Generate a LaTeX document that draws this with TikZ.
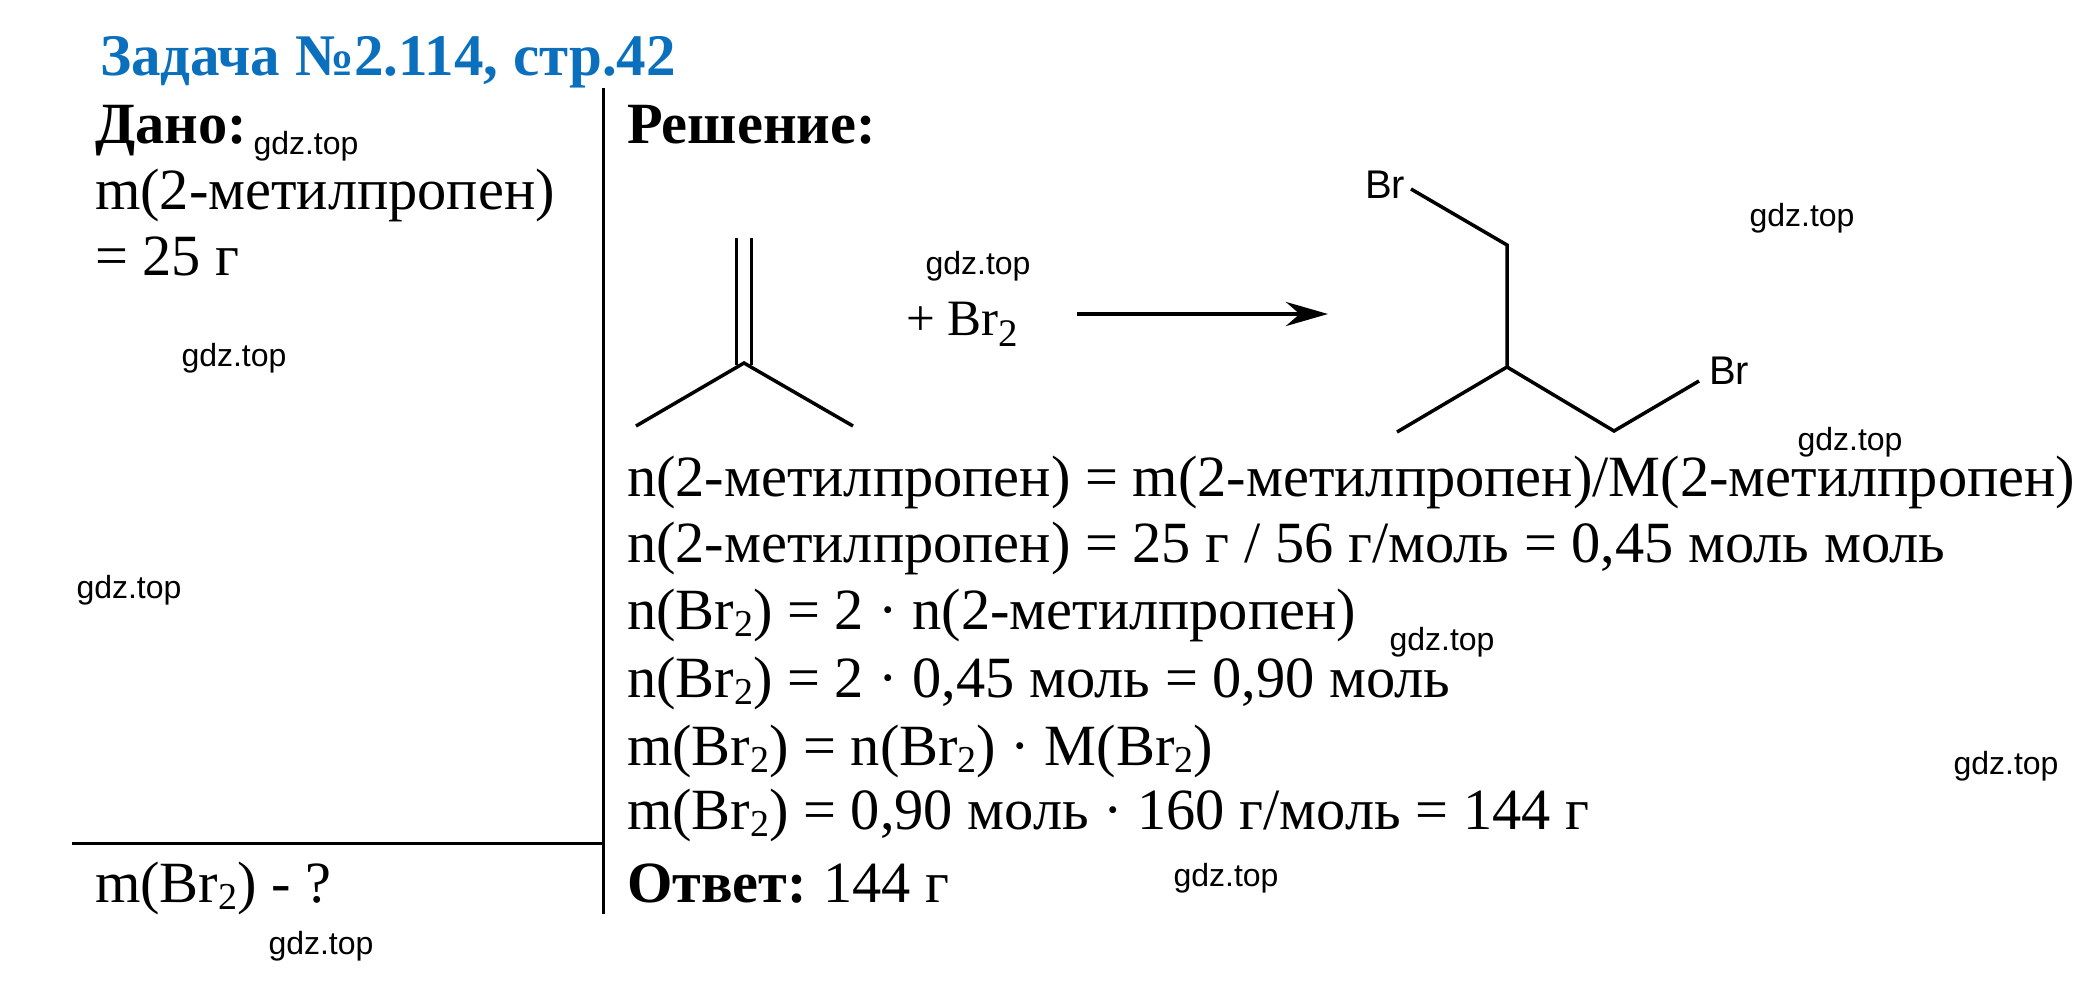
\documentclass[tikz,border=0pt]{standalone}
\usepackage{fontspec}
\setmainfont{Liberation Serif}
\newfontfamily\wmfont{Liberation Sans}
\usetikzlibrary{arrows.meta}
\newcommand\lowsub[1]{\raisebox{-0.13em}{\fontsize{38}{38}\selectfont #1}}
\tikzset{
  body/.style={anchor=base west,inner sep=0pt,outer sep=0pt,font=\fontsize{58.4}{60}\selectfont,text=black},
  head/.style={body,font=\fontsize{58.4}{60}\selectfont\bfseries},
  titletext/.style={body,font=\fontsize{59}{62}\selectfont\bfseries,text=titleblue},
  wm/.style={inner sep=0pt,font=\wmfont\fontsize{32}{34}\selectfont,text=black},
  atomlabel/.style={anchor=base west,inner sep=0pt,font=\wmfont\fontsize{40}{42}\selectfont},
  bond/.style={draw=black,line width=3.5pt},
  rule/.style={draw=black,line width=3pt},
  react/.style={draw=black,line width=4.5pt,-{Stealth[length=42pt,width=24pt]}}
}
\definecolor{titleblue}{HTML}{0A70BE}
\begin{document}
\begin{tikzpicture}[x=1pt,y=-1pt]
\useasboundingbox[fill=white] (0,0) rectangle (2080,994);
% title
\node[titletext] (title) at (100,75) {Задача №2.114, стр.42};
% rules
\coordinate (vtop) at (603,88);
\coordinate (vbot) at (603,914);
\coordinate (hl) at (72,843);
\coordinate (hr) at (603,843);
\draw[rule] (vtop) -- (vbot);
\draw[rule] (hl) -- (hr);
% given
\node[head] (given) at (95,143) {Дано:};
\node[body] (g1) at (95,209) {m(2-метилпропен)};
\node[body] (g2) at (95,275) {= 25 г};
\node[body] (find) at (95,902) {m(Br\lowsub{2}) - ?};
% solution
\node[head] (sol) at (627,143) {Решение:};
\node[body] (s1) at (627,496) {n(2-метилпропен) = m(2-метилпропен)/M(2-метилпропен)};
\node[body] (s2) at (627,562) {n(2-метилпропен) = 25 г / 56 г/моль = 0,45 моль моль};
\node[body] (s3) at (627,629) {n(Br\lowsub{2}) = 2 · n(2-метилпропен)};
\node[body] (s4) at (627,697) {n(Br\lowsub{2}) = 2 · 0,45 моль = 0,90 моль};
\node[body] (s5) at (627,765) {m(Br\lowsub{2}) = n(Br\lowsub{2}) · M(Br\lowsub{2})};
\node[body] (s6) at (627,829) {m(Br\lowsub{2}) = 0,90 моль · 160 г/моль = 144 г};
\node[body] (s7) at (627,902) {\textbf{Ответ:}\hspace{-3pt} 144 г};
% isobutene
\coordinate (a1) at (736.5,238);
\coordinate (a2) at (736.5,365);
\coordinate (b1) at (751.5,238);
\coordinate (b2) at (751.5,365);
\coordinate (c) at (744,363);
\coordinate (cl) at (636,426);
\coordinate (cr) at (853,426);
\draw[bond] (a1) -- (a2);
\draw[bond] (b1) -- (b2);
\draw[bond,line join=miter] (cl) -- (c) -- (cr);
% reagent
\node[body,font=\fontsize{51}{53}\selectfont] (reag) at (906,335) {+ Br\raisebox{-0.22em}{\fontsize{39}{39}\selectfont 2}};
% arrow
\coordinate (ra) at (1077,314);
\coordinate (rb) at (1328,314);
\draw[react] (ra) -- (rb);
% product
\node[atomlabel] (br1) at (1365,198) {Br};
\node[atomlabel] (br2) at (1709,384) {Br};
\coordinate (p1) at (1411,189);
\coordinate (p2) at (1507,245);
\coordinate (p3) at (1507,367);
\coordinate (p4) at (1397,432);
\coordinate (p5) at (1614,431);
\coordinate (p6) at (1699,381);
\draw[bond,line join=miter] (p1) -- (p2) -- (p3) -- (p4);
\draw[bond,line join=miter] (p3) -- (p5) -- (p6);
% watermarks
\node[wm] (w1) at (306,146) {gdz.top};
\node[wm] (w2) at (234,358) {gdz.top};
\node[wm] (w3) at (129,590) {gdz.top};
\node[wm] (w4) at (321,946) {gdz.top};
\node[wm] (w5) at (978,266) {gdz.top};
\node[wm] (w6) at (1802,218) {gdz.top};
\node[wm] (w7) at (1850,442) {gdz.top};
\node[wm] (w8) at (1442,642) {gdz.top};
\node[wm] (w9) at (2006,766) {gdz.top};
\node[wm] (w10) at (1226,878) {gdz.top};
\end{tikzpicture}
\end{document}
